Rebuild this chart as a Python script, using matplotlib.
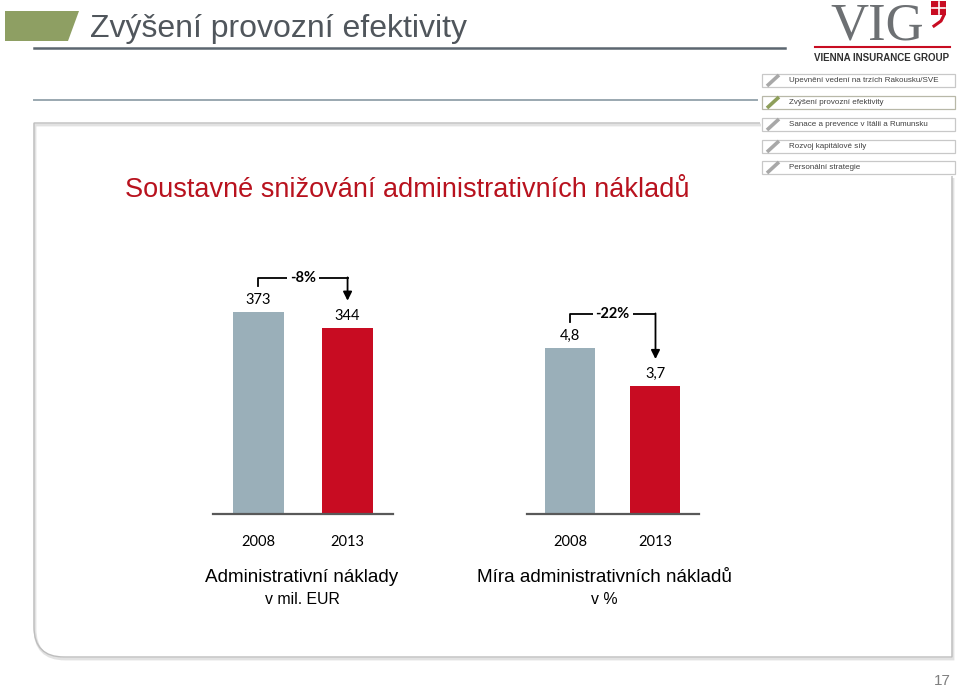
import numpy as np
import matplotlib.pyplot as plt
from matplotlib.patches import Polygon, Rectangle, PathPatch
from matplotlib.path import Path

# data
years = ['2008', '2013']
admin_costs = [373, 344]          # mil. EUR
admin_ratio = [4.8, 3.7]          # %
cost_labels = ['373', '344']
ratio_labels = ['4,8', '3,7']
changes = ['-8%', '-22%']
panel_titles = [('Administrativní náklady', 'v mil. EUR'),
                ('Míra administrativních nákladů', 'v %')]
nav_items = ['Upevnění vedení na trzích Rakousku/SVE',
             'Zvýšení provozní efektivity',
             'Sanace a prevence v Itálii a Rumunsku',
             'Rozvoj kapitálové síly',
             'Personální strategie']
active_item = 1

GRAY = '#9AAFB9'
RED = '#C80C22'
NUM_FONT = ['Lato', 'DejaVu Sans']
TXT_FONT = ['Liberation Sans', 'DejaVu Sans']

W, H = 960, 687
fig = plt.figure(figsize=(W / 100, H / 100), dpi=100)

# background axes in pixel coords (y down)
bg = fig.add_axes([0, 0, 1, 1])
bg.set_xlim(0, W)
bg.set_ylim(H, 0)
bg.axis('off')

# header
bg.add_patch(Polygon([(5, 11), (79, 11), (68, 41), (5, 41)], closed=True,
                     color='#8E9F63', lw=0))
bg.text(90, 29, 'Zvýšení provozní efektivity', fontsize=23, color='#50565C',
        va='center', family=TXT_FONT)
bg.plot([34, 785], [48, 48], color='#5C6670', lw=1.8)
bg.plot([34, 757], [100, 100], color='#9AA8B0', lw=1.4)

# logo
bg.text(877, 40, 'VIG', fontsize=38, color='#6D7073', ha='center',
        va='baseline', family=['Liberation Serif', 'DejaVu Serif'])
bg.add_patch(Rectangle((931, 1), 15, 14, color=RED, lw=0))
bg.plot([938.5, 938.5], [2, 14], color='white', lw=1.2)
bg.plot([932, 945], [8, 8], color='white', lw=1.2)
bg.plot([944, 941, 934], [15, 21, 26], color=RED, lw=2.2)
bg.plot([815, 950], [47, 47], color=RED, lw=1.5)
bg.text(882, 58, 'VIENNA INSURANCE GROUP', fontsize=7, fontweight='bold',
        color='#303030', ha='center', va='center', family=TXT_FONT)

# navigation boxes
nav_tops = [74, 96, 118, 140, 161]
for i, (item, top) in enumerate(zip(nav_items, nav_tops)):
    active = i == active_item
    bg.add_patch(Rectangle((762, top), 193, 13, facecolor='white',
                           edgecolor='#B8B8A8' if active else '#C8C8C8', lw=0.9))
    bg.plot([767, 779], [top + 12, top + 1],
            color='#8E9F5A' if active else '#A8A8A8', lw=2.6,
            solid_capstyle='butt')
    bg.text(789, top + 6.5, item, fontsize=5.8, color='#404040', va='center',
            family=TXT_FONT)

# content frame with rounded bottom-left corner
def frame_path(dx=0, dy=0):
    verts = [(760, 123), (34, 123), (34, 627), (34, 657), (64, 657),
             (952, 657), (952, 176)]
    verts = [(x + dx, y + dy) for x, y in verts]
    codes = [Path.MOVETO, Path.LINETO, Path.LINETO, Path.CURVE3, Path.CURVE3,
             Path.LINETO, Path.LINETO]
    return Path(verts, codes)

bg.add_patch(PathPatch(frame_path(1, 2), fill=False, edgecolor='#E2E2E2', lw=2))
bg.add_patch(PathPatch(frame_path(), fill=False, edgecolor='#BDBDBD', lw=1))

bg.text(125, 190, 'Soustavné snižování administrativních nákladů', fontsize=19.5,
        color='#B8121E', va='center', family=TXT_FONT)

bg.text(942, 681, '17', fontsize=11, color='#7F7F7F', ha='center',
        va='center', family=TXT_FONT)


def to_bg(ax, x, y):
    disp = ax.transData.transform((x, y))
    return bg.transData.inverted().transform(disp)


def bar_panel(rect, values, labels, change, ymax, width, xlim, title, title_x):
    ax = fig.add_axes(rect)
    x = np.arange(len(values))
    ax.bar(x, values, width, color=[GRAY, RED], zorder=2)
    ax.set_xlim(*xlim)
    ax.set_ylim(0, ymax)
    for s in ['left', 'right', 'top']:
        ax.spines[s].set_visible(False)
    ax.spines['bottom'].set_color('#595959')
    ax.spines['bottom'].set_linewidth(1.6)
    ax.spines['bottom'].set_zorder(3)
    ax.set_yticks([])
    ax.set_xticks(x, years)
    ax.tick_params(axis='x', length=0, pad=15, labelsize=10.5)
    for t in ax.get_xticklabels():
        t.set_family(NUM_FONT)
    ax.patch.set_alpha(0)

    for xi, v, lbl in zip(x, values, labels):
        ax.annotate(lbl, (xi, v), xytext=(0, 5), textcoords='offset pixels',
                    ha='center', va='bottom', fontsize=10.5, family=NUM_FONT)

    # bracket with arrow (pixel offsets above the bars)
    gx, gy = to_bg(ax, x[0], values[0])
    rx, ry = to_bg(ax, x[1], values[1])
    yb = gy - 34
    bg.plot([gx, gx, rx], [gy - 26, yb, yb], color='black', lw=1.3)
    bg.annotate('', xy=(rx, ry - 27), xytext=(rx, yb - 0.6),
                arrowprops=dict(arrowstyle='-|>', color='black', lw=1.3,
                                shrinkA=0, shrinkB=0, mutation_scale=13))
    bg.text((gx + rx) / 2, yb, change, ha='center', va='center', fontsize=10.5,
            fontweight='bold', family=NUM_FONT,
            bbox=dict(facecolor='white', edgecolor='none', pad=2))

    bg.text(title_x, 578, title[0], ha='center', va='center', fontsize=13.6,
            family=TXT_FONT)
    bg.text(title_x, 600, title[1], ha='center', va='center', fontsize=11.4,
            family=TXT_FONT)
    return ax


bottom = (H - 514) / H
height = 254 / H
bar_panel([213 / W, bottom, 180 / W, height], admin_costs, cost_labels,
          changes[0], 469.0, 0.573, (-0.51, 1.51), panel_titles[0], 302)
bar_panel([527 / W, bottom, 172 / W, height], admin_ratio, ratio_labels,
          changes[1], 7.345, 0.585, (-0.503, 1.509), panel_titles[1], 604)

fig.savefig('out.png', dpi=100)
